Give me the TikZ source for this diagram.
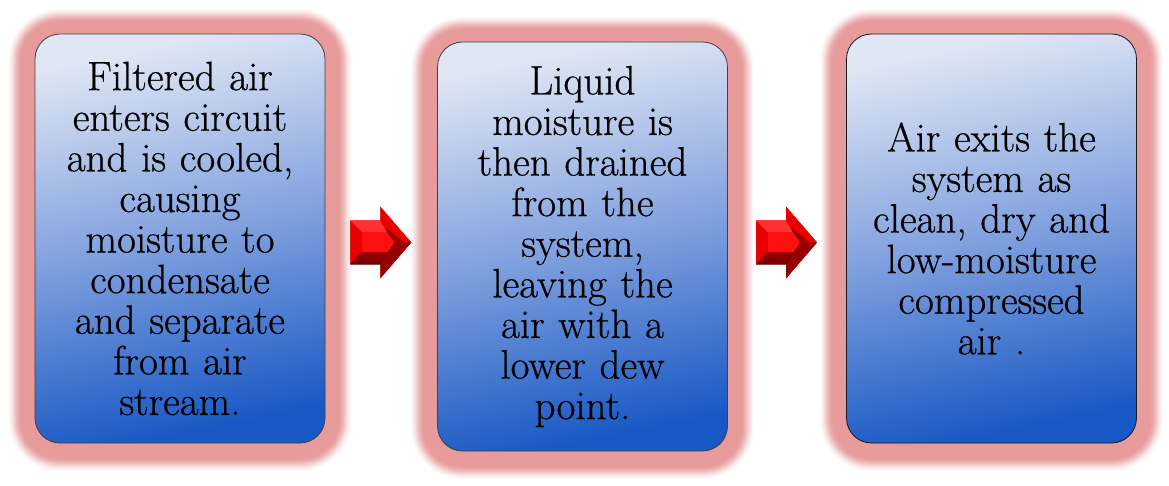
\documentclass[tikz,border=0pt]{standalone}
\usepackage{fontspec}
\setmainfont{Latin Modern Roman}[FakeBold=0.6]
\usetikzlibrary{backgrounds,calc}
\definecolor{glowred}{RGB}{232,155,155}
\definecolor{btop}{RGB}{223,230,244}
\definecolor{bmid}{RGB}{128,160,222}
\definecolor{bbot}{RGB}{24,88,196}
\definecolor{arrbright}{RGB}{255,16,16}
\definecolor{arrtop}{RGB}{255,50,50}
\definecolor{arrmid}{RGB}{232,0,0}
\definecolor{arrdark}{RGB}{150,0,0}
\definecolor{arrdeep}{RGB}{115,0,0}
\tikzset{
  stepbox/.style={draw=black!75, line width=0.8pt, rounded corners=25pt,
    minimum width=290pt, minimum height=409pt, inner sep=0pt,
    text width=285pt, align=center,
    top color=btop, bottom color=bbot, middle color=bmid, shading angle=12,
    font=\fontsize{41}{40.6}\selectfont},
  pics/bevelarrow/.style={code={
    \fill[arrmid] (-31,-22) -- (-1,-22) -- (-1,-36) -- (30,0) -- (-1,36) -- (-1,22) -- (-31,22) -- cycle;
    % left face
    \fill[arrmid] (-31,-22) -- (-19,-10) -- (-19,10) -- (-31,22) -- cycle;
    % top face
    \fill[arrtop] (-31,-22) -- (-1,-22) -- (6,-10) -- (-19,-10) -- cycle;
    % head upper face
    \fill[arrmid] (-1,-22) -- (-1,-36) -- (30,0) -- (13,0) -- (6,-10) -- cycle;
    \fill[arrdark] (4,-15) -- (23,0) -- (13,0) -- (6,-10) -- cycle;
    % head lower face
    \fill[arrdark] (13,0) -- (30,0) -- (-1,36) -- (-1,22) -- (6,10) -- cycle;
    % bottom face
    \fill[top color=arrdark, bottom color=arrdeep] (-19,10) -- (6,10) -- (-1,22) -- (-31,22) -- cycle;
    % inner face
    \fill[arrbright] (-19,-10) -- (6,-10) -- (13,0) -- (6,10) -- (-19,10) -- cycle;
  }}
}
\begin{document}
\begin{tikzpicture}[x=1pt,y=-1pt]
\useasboundingbox (0,0) rectangle (1169,486);
\node[stepbox] (b1) at (180,238.5) {Filtered air\\enters circuit\\and is cooled,\\causing\\moisture to\\condensate\\and separate\\from air\\stream.};
\node[stepbox] (b2) at (582.5,246.5) {Liquid\\moisture is\\then drained\\from the\\system,\\leaving the\\air with a\\lower dew\\point.};
\node[stepbox, draw=black!90] (b3) at (991.5,238.5) {Air exits the\\system as\\clean, dry and\\low-moisture\\compressed\\air .};
\begin{scope}[on background layer]
  \foreach \n in {b1,b2,b3}{
    \foreach \e/\p in {27/1,26/5,25/10,24/18,23/26,22/35,21/45,20/55,19/65,18/74,17/82,16/90,15/95,14/99,13/100}{
      \pgfmathsetmacro\rr{25+\e}
      \fill[glowred!\p!white, rounded corners=\rr pt]
        ([shift={(-\e,-\e+1.5)}]\n.north west) rectangle ([shift={(\e,\e+1.5)}]\n.south east);
    }
  }
\end{scope}
\pic at ($(b1.east)!0.5!(b2.west)$) {bevelarrow};
\pic at ($(b2.east)!0.5!(b3.west)$) {bevelarrow};
\end{tikzpicture}
\end{document}
